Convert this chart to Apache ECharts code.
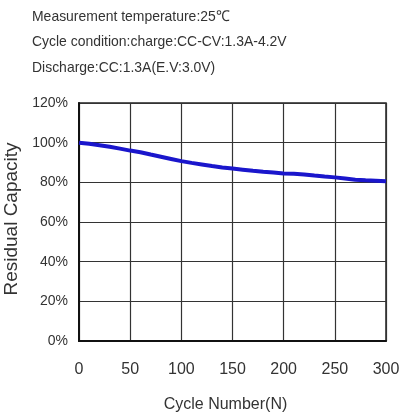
<!DOCTYPE html>
<html>
<head>
<meta charset="utf-8">
<script src="https://cdn.jsdelivr.net/npm/echarts@6/dist/echarts.min.js"></script>
<style>html,body{margin:0;padding:0;background:#fff;}#c{width:400px;height:419px;}</style>
</head>
<body>
<div id="c"></div>
<script>
const headerLines = [
  'Measurement temperature:25\u2103',
  'Cycle condition:charge:CC-CV:1.3A-4.2V',
  'Discharge:CC:1.3A(E.V:3.0V)'
];
const cycles = [0,10,20,30,40,50,60,70,80,90,100,110,120,130,140,150,160,170,180,190,200,210,220,230,240,250,260,270,280,290,300];
const capacity = [100,99.4,98.7,97.9,97.0,96.0,95.2,94.0,92.9,91.8,90.7,89.8,89.0,88.2,87.5,87.0,86.4,85.8,85.3,84.9,84.5,84.3,84.0,83.4,82.9,82.5,81.9,81.3,81.0,80.8,80.5];
const xTicks = {min:0, max:300, interval:50};
const yTicks = {min:0, max:120, interval:20};

const font = '"Liberation Sans", Arial, sans-serif';
const chart = echarts.init(document.getElementById('c'), null, {renderer:'canvas'});
chart.setOption({
  animation:false,
  backgroundColor:'#fff',
  graphic: headerLines.map((t,i)=>({
    type:'text', x:32, y:[9,34,60][i], scaleX:0.93,
    style:{text:t, font:'15px ' + font, fill:'#333'}
  })),
  grid:{left:79, right:14, top:103, bottom:78, show:true, borderColor:'#222', borderWidth:1.5,
        containLabel:false, outerBoundsMode:'none'},
  xAxis:{
    type:'value', min:xTicks.min, max:xTicks.max, interval:xTicks.interval,
    axisLine:{show:true, lineStyle:{color:'#111', width:2}},
    axisTick:{show:false},
    splitLine:{show:true, lineStyle:{color:'#333', width:1.2}},
    axisLabel:{color:'#333', fontFamily:font, fontSize:16, margin:21},
    name:'Cycle Number(N)', nameLocation:'middle', nameGap:56,
    nameTextStyle:{color:'#333', fontFamily:font, fontSize:16, padding:[0,14,0,0]}
  },
  yAxis:{
    type:'value', min:yTicks.min, max:yTicks.max, interval:yTicks.interval,
    axisLine:{show:true, lineStyle:{color:'#111', width:2}},
    axisTick:{show:false},
    splitLine:{show:true, lineStyle:{color:'#333', width:1.2}},
    axisLabel:{color:'#333', fontFamily:font, fontSize:14, margin:11, formatter:'{value}%'},
    name:'Residual Capacity', nameLocation:'middle', nameGap:43,
    nameTextStyle:{color:'#333', fontFamily:font, fontSize:19, padding:[0,0,0,6]}
  },
  series:[{
    type:'line', data:cycles.map((c,i)=>[c, capacity[i]]),
    showSymbol:false, smooth:false,
    lineStyle:{color:'#1a16cc', width:4}
  }]
});
</script>
</body>
</html>
